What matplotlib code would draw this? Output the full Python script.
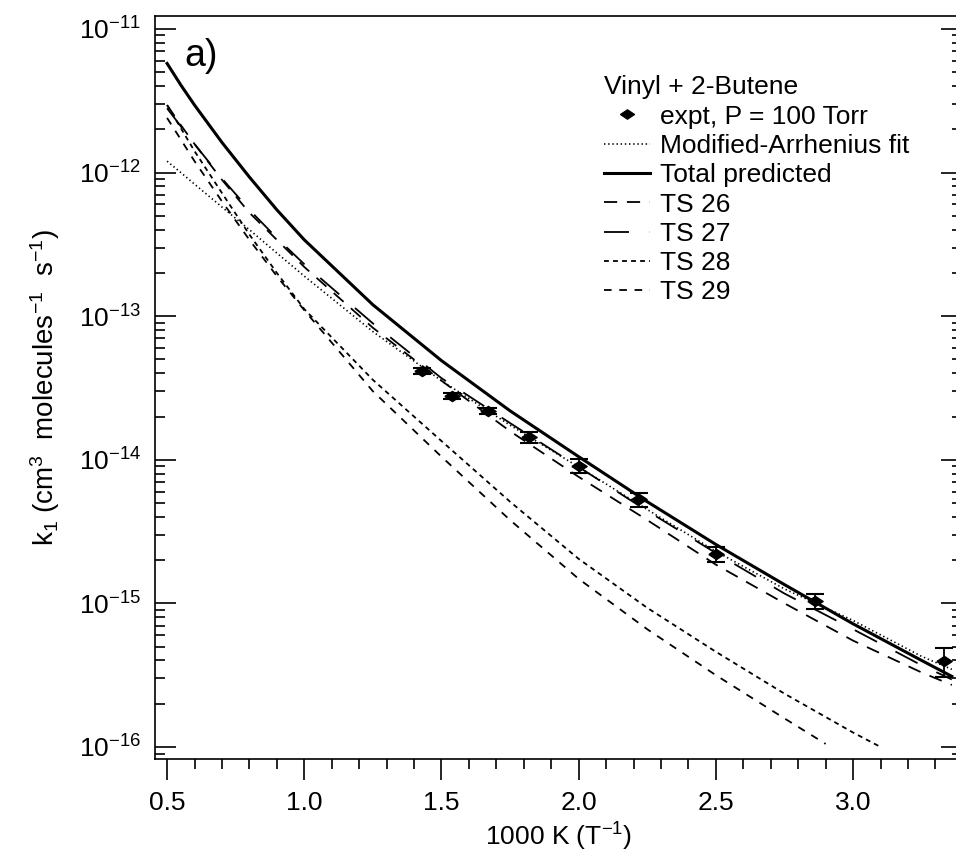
import matplotlib
matplotlib.use("Agg")
import matplotlib.pyplot as plt
import numpy as np
from matplotlib.lines import Line2D

plt.rcParams['font.family'] = ['Liberation Sans', 'DejaVu Sans']
plt.rcParams['mathtext.fontset'] = 'custom'
plt.rcParams['mathtext.rm'] = 'Liberation Sans'
plt.rcParams['mathtext.it'] = 'Liberation Sans:italic'
plt.rcParams['lines.scale_dashes'] = False
plt.rcParams['axes.unicode_minus'] = False

# experiment (1000/T, k1) with error bars
x_expt = [1.43, 1.54, 1.67, 1.82, 2.00, 2.22, 2.50, 2.86, 3.33]
k_expt = [4.15e-14, 2.78e-14, 2.19e-14, 1.44e-14, 9.1e-15, 5.3e-15, 2.2e-15, 1.04e-15, 3.95e-16]
k_err = [0.2e-14, 0.15e-14, 0.12e-14, 0.13e-14, 1.0e-15, 0.6e-15, 0.25e-15, 0.12e-15, 0.9e-16]

# curves
x_calc = [0.50, 0.55, 0.60, 0.70, 0.80, 0.90, 1.00, 1.25, 1.50, 1.75, 2.00, 2.25, 2.50, 2.75,
          3.00, 3.25, 3.36]
k_fit = [1.2e-12, 1.0e-12, 8.3e-13, 5.75e-13, 4.0e-13, 2.75e-13, 1.9e-13, 7.8e-14, 3.55e-14,
         1.74e-14, 8.9e-15, 4.5e-15, 2.3e-15, 1.26e-15, 7.6e-16, 4.27e-16, 3.47e-16]
k_total = [5.75e-12, 4.07e-12, 2.95e-12, 1.62e-12, 9.3e-13, 5.5e-13, 3.4e-13, 1.2e-13, 4.9e-14,
           2.19e-14, 1.05e-14, 5.1e-15, 2.57e-15, 1.35e-15, 7.2e-16, 4.0e-16, 3.1e-16]
k_ts26 = [2.95e-12, 2.14e-12, 1.58e-12, 8.9e-13, 5.25e-13, 3.4e-13, 2.2e-13, 8.3e-14, 3.55e-14,
          1.58e-14, 7.6e-15, 3.8e-15, 1.86e-15, 1.0e-15, 5.5e-16, 3.3e-16, 2.7e-16]
k_ts27 = [2.8e-12, 2.1e-12, 1.58e-12, 9.1e-13, 5.5e-13, 3.5e-13, 2.3e-13, 8.9e-14, 3.7e-14,
          1.8e-14, 8.9e-15, 4.4e-15, 2.24e-15, 1.17e-15, 6.6e-16, 3.7e-16, 2.95e-16]
x_ts28 = [0.50, 0.55, 0.60, 0.70, 0.80, 0.90, 1.00, 1.25, 1.50, 1.75, 2.00, 2.25, 2.50, 2.75,
          3.00, 3.10]
k_ts28 = [2.95e-12, 2.04e-12, 1.41e-12, 7.2e-13, 3.7e-13, 2.0e-13, 1.12e-13, 3.6e-14, 1.35e-14,
          5.1e-15, 2.04e-15, 9.3e-16, 4.6e-16, 2.35e-16, 1.26e-16, 1.0e-16]
x_ts29 = [0.50, 0.55, 0.60, 0.70, 0.80, 0.90, 1.00, 1.25, 1.50, 1.75, 2.00, 2.25, 2.50, 2.75,
          2.90]
k_ts29 = [2.4e-12, 1.7e-12, 1.2e-12, 6.3e-13, 3.4e-13, 1.9e-13, 1.1e-13, 3.0e-14, 1.05e-14,
          3.8e-15, 1.48e-15, 6.6e-16, 3.16e-16, 1.58e-16, 1.05e-16]

fig = plt.figure(figsize=(9.56, 8.61), dpi=100)
ax = fig.add_axes([155/956, 102/861, 807/956, 743/861])

diamond = [(-1.35, 0), (0, 0.9), (1.35, 0), (0, -0.9), (-1.35, 0)]

ls_fit = (0, (1, 2))
ls_26 = (0, (9.5, 7))
ls_27 = (0, (18, 15))
ls_28 = (0, (3.5, 3))
ls_29 = (0, (5.5, 5.5))

ax.plot(x_calc, k_fit, color='k', lw=1.2, linestyle=ls_fit)
ax.plot(x_calc, k_total, color='k', lw=2.2, linestyle='-')
ax.plot(x_calc, k_ts26, color='k', lw=1.3, linestyle=ls_26)
ax.plot(x_calc, k_ts27, color='k', lw=1.3, linestyle=ls_27)
ax.plot(x_ts28, k_ts28, color='k', lw=1.3, linestyle=ls_28)
ax.plot(x_ts29, k_ts29, color='k', lw=1.3, linestyle=ls_29)
ax.errorbar(x_expt, k_expt, yerr=k_err, fmt='none', ecolor='k', elinewidth=1.3,
            capsize=6.5, capthick=1.5)
ax.plot(x_expt, k_expt, linestyle='none', marker=diamond, markersize=11, color='k')

ax.set_yscale('log')
ax.set_xlim(0.456, 3.397)
ax.set_ylim(10**-16.084, 10**-10.91)

ax.set_xticks([0.5, 1.0, 1.5, 2.0, 2.5, 3.0])
ax.set_xticklabels(['0.5', '1.0', '1.5', '2.0', '2.5', '3.0'])
ax.set_xticks(np.arange(0.5, 3.4, 0.1), minor=True)
ax.tick_params(axis='x', which='major', direction='out', length=15, width=1.2,
               labelsize=19, pad=8)
ax.tick_params(axis='x', which='minor', direction='out', length=7, width=1.2)
ax.tick_params(axis='y', which='major', direction='in', length=15, width=1.2,
               labelsize=19, right=True, pad=10)
ax.tick_params(axis='y', which='minor', direction='in', length=7, width=1.2, right=True)
ax.yaxis.set_minor_locator(matplotlib.ticker.LogLocator(base=10, subs=np.arange(2, 10)))
ax.yaxis.set_minor_formatter(matplotlib.ticker.NullFormatter())
for s in ax.spines.values():
    s.set_linewidth(1.2)
ax.spines['right'].set_visible(False)

ax.set_xlabel(r'1000 K (T$^{-1}$)', fontsize=19, labelpad=4)
ax.set_ylabel(r'k$_1$ (cm$^3$  molecules$^{-1}$  s$^{-1}$)', fontsize=20, labelpad=12)

ax.text(0.036, 0.97, 'a)', transform=ax.transAxes, fontsize=27, va='top', ha='left')

handles = [
    Line2D([], [], linestyle='none', marker=diamond, markersize=10, color='k'),
    Line2D([], [], color='k', lw=1.2, linestyle=ls_fit),
    Line2D([], [], color='k', lw=2.2),
    Line2D([], [], color='k', lw=1.3, linestyle=ls_26),
    Line2D([], [], color='k', lw=1.3, linestyle=ls_27),
    Line2D([], [], color='k', lw=1.3, linestyle=ls_28),
    Line2D([], [], color='k', lw=1.3, linestyle=ls_29),
]
labels = ['expt, P = 100 Torr', 'Modified-Arrhenius fit', 'Total predicted',
          'TS 26', 'TS 27', 'TS 28', 'TS 29']
leg = ax.legend(handles, labels, title='Vinyl + 2-Butene', loc='upper left',
                bbox_to_anchor=(0.556, 0.92), frameon=False, fontsize=19,
                title_fontsize=19, handlelength=1.75, handletextpad=0.4,
                labelspacing=0.2, borderpad=0, borderaxespad=0, alignment='left')

fig.savefig('out.png', dpi=100)
